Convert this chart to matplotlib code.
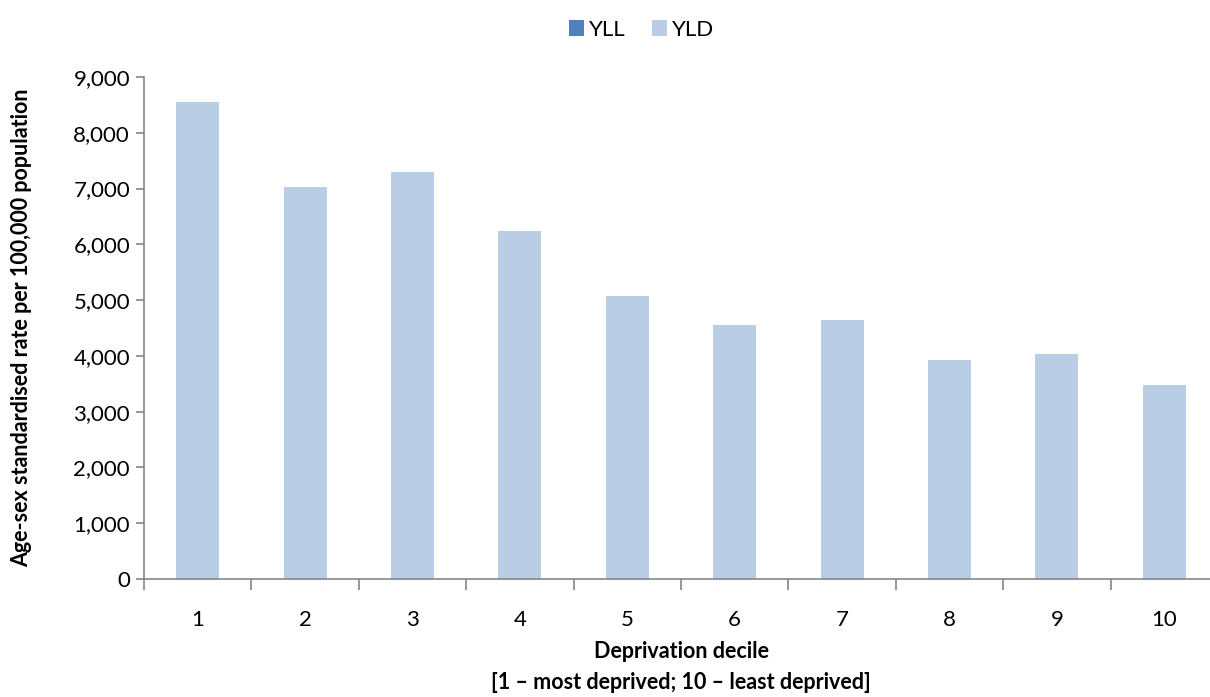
import matplotlib.pyplot as plt
import numpy as np

plt.rcParams['font.family'] = ['Lato', 'DejaVu Sans']

deciles = ['1', '2', '3', '4', '5', '6', '7', '8', '9', '10']
yll = [0, 0, 0, 0, 0, 0, 0, 0, 0, 0]
yld = [8550, 7030, 7300, 6240, 5070, 4550, 4640, 3920, 4030, 3470]

fig = plt.figure(figsize=(12.1, 6.97), dpi=100)
ax = fig.add_axes([144 / 1210, 1 - 579 / 697, 1074 / 1210, (579 - 77) / 697])

x = np.arange(len(deciles))
ax.bar(x, yll, width=0.4, color='#4f81bd', label='YLL')
ax.bar(x, yld, width=0.4, bottom=yll, color='#b9cde5', label='YLD')

ax.set_xlim(-0.5, 9.5)
ax.set_ylim(0, 9000)
ax.set_yticks(range(0, 9001, 1000))
ax.set_yticklabels([f'{v:,}' for v in range(0, 9001, 1000)], fontsize=16)
ax.set_xticks(x)
ax.set_xticklabels(deciles, fontsize=16)
ax.set_xticks(np.arange(-0.5, 10, 1), minor=True)
ax.tick_params(axis='x', which='major', length=0, pad=22)
ax.tick_params(axis='x', which='minor', length=8, color='#868686', width=1.2)
ax.tick_params(axis='y', length=6, color='#868686', width=1.2, pad=4)

for s in ['top', 'right']:
    ax.spines[s].set_visible(False)
for s in ['left', 'bottom']:
    ax.spines[s].set_color('#868686')
    ax.spines[s].set_linewidth(1.2)

ax.set_ylabel('Age-sex standardised rate per 100,000 population', fontsize=15.5, fontweight='bold', labelpad=30)
ax.set_xlabel('Deprivation decile\n[1 \u2013 most deprived; 10 \u2013 least deprived]', fontsize=15.5, fontweight='bold', labelpad=8, linespacing=1.6)

fig.legend(loc='upper center', bbox_to_anchor=(0.53, 1.0), ncol=2, frameon=False, fontsize=16,
           handlelength=0.7, handleheight=0.7, handletextpad=0.2, columnspacing=1.2)

fig.savefig('out.png', dpi=100)
